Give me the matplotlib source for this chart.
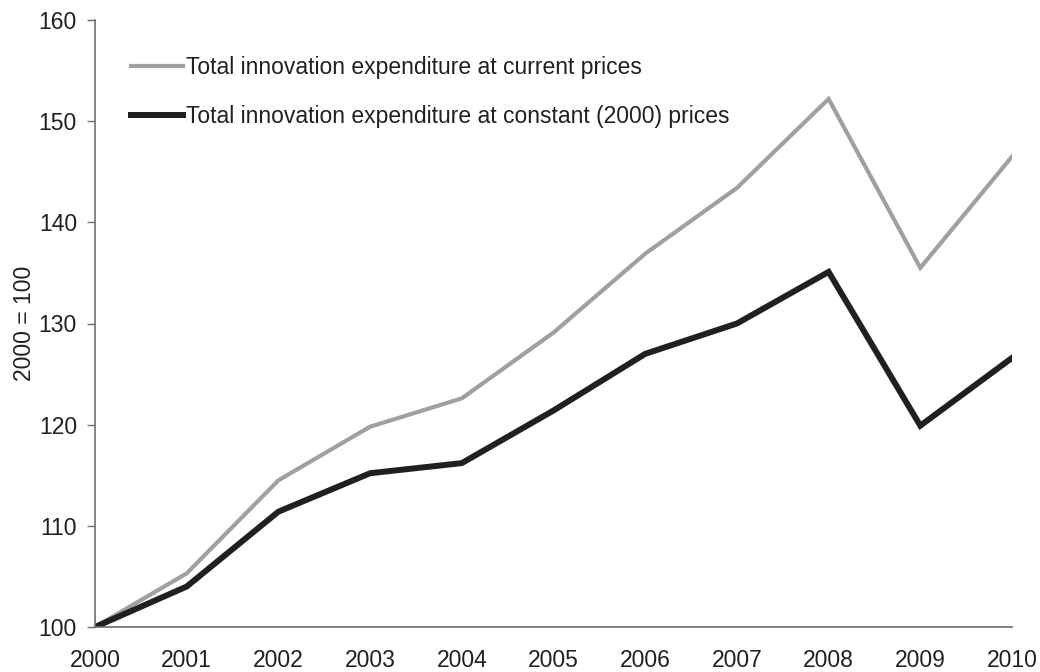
import matplotlib
matplotlib.use("Agg")
import matplotlib.pyplot as plt

years = [2000, 2001, 2002, 2003, 2004, 2005, 2006, 2007, 2008, 2009, 2010]
current_prices = [100, 105.3, 114.5, 119.8, 122.6, 129.1, 136.9, 143.4, 152.2, 135.5, 146.5]
constant_prices = [100, 104.0, 111.4, 115.2, 116.2, 121.4, 127.0, 130.0, 135.1, 119.9, 126.6]
label_current = "Total innovation expenditure at current prices"
label_constant = "Total innovation expenditure at constant (2000) prices"
yticks = [100, 110, 120, 130, 140, 150, 160]

plt.rcParams['font.family'] = ['Liberation Sans', 'DejaVu Sans']
FS = 16.5

fig = plt.figure(figsize=(10.4, 6.72), dpi=100)
ax = fig.add_axes([95/1040, 1-627/672, (1012-95)/1040, (627-20)/672])

ax.plot(years, current_prices, color='#a0a0a0', lw=3.0, label=label_current, solid_joinstyle='miter')
ax.plot(years, constant_prices, color='#231f20', lw=4.3, label=label_constant, solid_joinstyle='miter')

ax.set_xlim(2000, 2010)
ax.set_ylim(100, 160)
ax.set_xticks(years)
ax.set_yticks(yticks)
ax.tick_params(axis='x', length=0, pad=15.5, labelsize=FS, colors='#231f20')
ax.tick_params(axis='y', length=6, width=1, color='#6d6d6d', pad=7, labelsize=FS, labelcolor='#231f20')
for s in ['top', 'right']:
    ax.spines[s].set_visible(False)
for s in ['left', 'bottom']:
    ax.spines[s].set_color('#6d6d6d')
    ax.spines[s].set_linewidth(1.2)
ax.set_ylabel("2000 = 100", fontsize=FS, color='#231f20', labelpad=2)

leg = ax.legend(loc='upper left', bbox_to_anchor=(0.029, 0.955), frameon=False,
                fontsize=FS, handlelength=2.3, handletextpad=0.1, labelspacing=1.1,
                borderaxespad=0)
for t in leg.get_texts():
    t.set_color('#231f20')

fig.savefig("out.png", dpi=100)
